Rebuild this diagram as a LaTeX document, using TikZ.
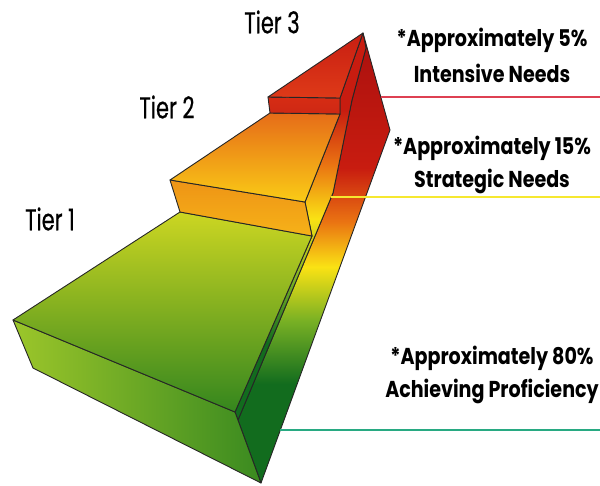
\documentclass[tikz,border=0pt]{standalone}
\usepackage{fontspec}
\setmainfont{Poppins}
\newfontfamily\tierfont[FakeStretch=0.70,FakeBold=0.5]{Poppins}
\newfontfamily\notefont[FakeStretch=0.83]{Poppins}
\usetikzlibrary{positioning}

\definecolor{sidedark}{RGB}{170,16,14}
\definecolor{sidered}{RGB}{200,28,16}
\definecolor{sideorg}{RGB}{234,116,18}
\definecolor{sideyel}{RGB}{250,226,20}
\definecolor{sidelime}{RGB}{120,176,36}
\definecolor{sidegrn}{RGB}{18,108,30}
\definecolor{lineRed}{RGB}{222,64,82}
\definecolor{lineYel}{RGB}{246,232,48}
\definecolor{lineTeal}{RGB}{40,170,130}

\pgfdeclareverticalshading{sidewall}{100bp}{color(0bp)=(sidegrn); color(36bp)=(sidegrn);
  color(43bp)=(sidelime); color(49bp)=(sideyel); color(54bp)=(sideorg);
  color(60bp)=(sidered); color(75bp)=(sidedark); color(100bp)=(sidedark)}
\pgfdeclareverticalshading{stripwall}{100bp}{color(0bp)=(sidegrn); color(35bp)=(sidegrn);
  color(43bp)=(sidelime); color(51bp)=(sideyel); color(58bp)=(sideorg);
  color(65bp)=(sidered); color(75bp)=(sidered); color(100bp)=(sidered)}

\begin{document}
\begin{tikzpicture}[x=1pt,y=-1pt,node distance=33pt,on grid,
  face/.style={draw=black!85,line width=0.9pt,line join=round},
  tier/.style={font=\tierfont\fontsize{30}{30}\selectfont},
  note/.style={font=\notefont\bfseries\fontsize{23}{23}\selectfont},
  rule/.style={line width=1.6pt}]
  \useasboundingbox (0,0) rectangle (600,485);

  % tier 1
  \coordinate (t1a) at (13,320);
  \coordinate (t1b) at (33,368);
  \coordinate (t1c) at (261,483);
  \coordinate (t1d) at (235,412);
  \coordinate (t1e) at (180,212);
  \coordinate (t1f) at (312,236);
  % tier 2
  \coordinate (t2a) at (170,180);
  \coordinate (t2b) at (305,202);
  \coordinate (t2c) at (270,113);
  \coordinate (t2d) at (340,114);
  % tier 3
  \coordinate (t3a) at (268,97);
  \coordinate (t3b) at (340,98);
  \coordinate (t3c) at (363,33);
  % side wall
  \coordinate (s1) at (390,130);
  \coordinate (s2) at (366,48);
  \coordinate (s3) at (352,100);
  \coordinate (s4) at (333,193);
  \coordinate (s5) at (238,420);

  \shadedraw[face,shading=sidewall]
    (t3c) -- (s1) -- (t1c) -- (s5) -- (s4) -- (s3) -- (s2) -- cycle;
  \shadedraw[face,shading=stripwall]
    (t1d) -- (t1f) -- (t2b) -- (t2d) -- (t3b) -- (t3c) -- (s2) -- (s3) -- (s4) -- (s5) -- cycle;

  \shadedraw[face,left color={rgb,255:red,156;green,198;blue,42},right color={rgb,255:red,58;green,138;blue,32}]
    (t1a) -- (t1b) -- (t1c) -- (t1d) -- cycle;
  \shadedraw[face,top color={rgb,255:red,204;green,214;blue,34},bottom color={rgb,255:red,52;green,134;blue,30}]
    (t1a) -- (t1e) -- (t1f) -- (t1d) -- cycle;

  \shadedraw[face,top color={rgb,255:red,238;green,148;blue,22},bottom color={rgb,255:red,246;green,178;blue,24}]
    (t1e) -- (t2a) -- (t2b) -- (t1f) -- cycle;
  \shadedraw[face,top color={rgb,255:red,230;green,108;blue,24},bottom color={rgb,255:red,250;green,204;blue,22}]
    (t2a) -- (t2c) -- (t2d) -- (t2b) -- cycle;

  \shadedraw[face,top color={rgb,255:red,214;green,44;blue,20},bottom color={rgb,255:red,206;green,40;blue,20}]
    (t2c) -- (t3a) -- (t3b) -- (t2d) -- cycle;
  \shadedraw[face,top color={rgb,255:red,200;green,30;blue,18},bottom color={rgb,255:red,222;green,58;blue,24}]
    (t3a) -- (t3c) -- (t3b) -- cycle;

  % rules
  \coordinate (r3) at (381,97);
  \coordinate (r3e) at (600,97);
  \coordinate (r2) at (331,197);
  \coordinate (r2e) at (600,197);
  \coordinate (r1) at (280,430);
  \coordinate (r1e) at (600,430);
  \draw[rule,lineRed] (r3) -- (r3e);
  \draw[rule,lineYel] (r2) -- (r2e);
  \draw[rule,lineTeal] (r1) -- (r1e);

  % labels
  \node[tier] (tier3) at (272,22) {Tier 3};
  \node[tier] (tier2) at (167,107) {Tier 2};
  \node[tier] (tier1) at (50,219) {Tier 1};

  \node[note] (p5) at (492,40) {*Approximately 5\%};
  \node[note] (need3) [below=of p5] {Intensive Needs};
  \node[note] (p15) at (492,148) {*Approximately 15\%};
  \node[note] (need2) [below=of p15] {Strategic Needs};
  \node[note] (p80) at (492,358) {*Approximately 80\%};
  \node[note] (need1) [below=of p80] {Achieving Proficiency};
\end{tikzpicture}
\end{document}
